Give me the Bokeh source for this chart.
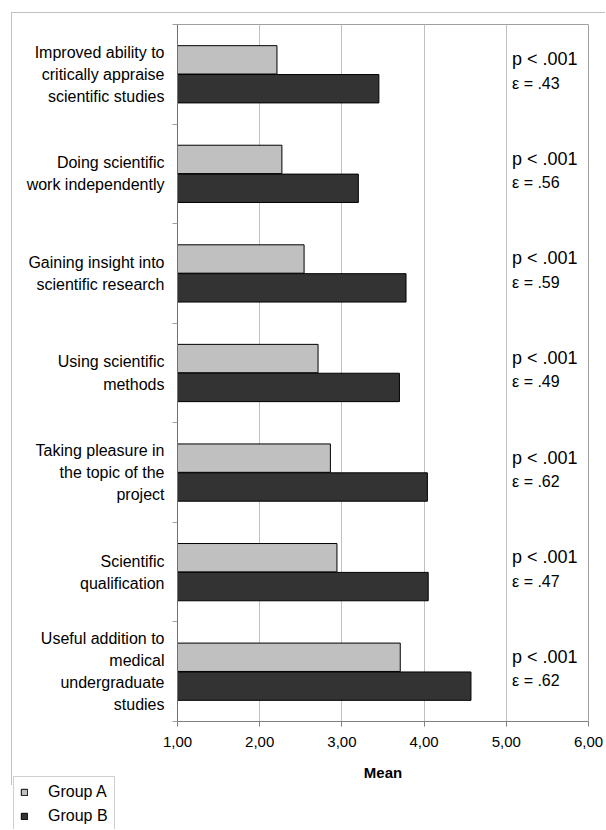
from bokeh.plotting import figure
from bokeh.models import (ColumnDataSource, Range1d, LinearAxis, FixedTicker,
                          Legend, LegendItem)
from bokeh.transform import dodge
from bokeh.core.properties import value
from bokeh.embed import file_html
from bokeh.resources import INLINE

categories = [
    "Improved ability to\ncritically appraise\nscientific studies",
    "Doing scientific\nwork independently",
    "Gaining insight into\nscientific research",
    "Using scientific\nmethods",
    "Taking pleasure in\nthe topic of the\nproject",
    "Scientific\nqualification",
    "Useful addition to\nmedical\nundergraduate\nstudies",
]
group_a = [2.21, 2.27, 2.54, 2.71, 2.86, 2.94, 3.71]
group_b = [3.45, 3.20, 3.78, 3.70, 4.04, 4.05, 4.57]
p_labels = ["p < .001"] * 7
effect_labels = ["ε = .43", "ε = .56", "ε = .59", "ε = .49", "ε = .62", "ε = .47", "ε = .62"]
x_ticks = [1, 2, 3, 4, 5, 6]
x_tick_labels = ["1,00", "2,00", "3,00", "4,00", "5,00", "6,00"]
series_names = ["Group A", "Group B"]
series_colors = ["#c0c0c0", "#333333"]

FONT = "Liberation Sans"
n = len(categories)
# band centre of each category (first category at the top)
band_pos = [n - i - 0.5 for i in range(n)]

src = ColumnDataSource(dict(cat=categories, pos=band_pos, a=group_a, b=group_b,
                            pv=p_labels, eff=effect_labels))

fig = figure(width=594, height=773,
             y_range=Range1d(0, n),
             x_range=Range1d(x_ticks[0], x_ticks[-1]),
             output_backend="svg", toolbar_location=None,
             min_border_left=165, min_border_right=18,
             min_border_top=11, min_border_bottom=65)
fig.margin = (12, 0, 0, 11)
fig.styles = {"border-left": "1px solid #c0c0c0", "border-top": "1px solid #c0c0c0"}

fig.outline_line_color = "#a0a0a0"
fig.background_fill_color = "white"
fig.border_fill_color = "white"

# grid
fig.ygrid.visible = False
fig.xgrid.ticker = x_ticks
fig.xgrid.grid_line_color = "#c0c0c0"

# x axis
xa = fig.xaxis[0]
xa.ticker = x_ticks
xa.major_label_overrides = {t: l for t, l in zip(x_ticks, x_tick_labels)}
xa.axis_line_color = "#808080"
xa.major_tick_line_color = "#808080"
xa.major_tick_in = 0
xa.major_tick_out = 5
xa.minor_tick_line_color = None
xa.major_label_standoff = 10
xa.major_label_text_font = FONT
xa.major_label_text_font_size = "15px"
xa.major_label_text_color = "black"
xa.axis_label = "Mean"
xa.axis_label_text_font = FONT
xa.axis_label_text_font_size = "15px"
xa.axis_label_text_font_style = "bold"
xa.axis_label_text_color = "black"
xa.axis_label_standoff = 14

# inner left axis: band-boundary ticks
ya = fig.yaxis[0]
ya.ticker = FixedTicker(ticks=list(range(n + 1)))
ya.axis_line_color = "#707070"
ya.major_tick_line_color = "#a0a0a0"
ya.major_tick_in = 0
ya.major_tick_out = 5
ya.minor_tick_line_color = None
ya.major_label_standoff = 0
ya.major_label_text_font_size = "0px"
ya.major_label_text_alpha = 0

# outer left axis: category names at band centres
cat_axis = LinearAxis(ticker=FixedTicker(ticks=band_pos),
                      major_label_overrides={pos: c for pos, c in zip(band_pos, categories)})
cat_axis.axis_line_color = None
cat_axis.major_tick_line_color = None
cat_axis.minor_tick_line_color = None
cat_axis.major_tick_in = 0
cat_axis.major_tick_out = 0
cat_axis.major_label_standoff = 8
cat_axis.major_label_text_font = FONT
cat_axis.major_label_text_font_size = "16px"
cat_axis.major_label_text_color = "black"
cat_axis.major_label_text_line_height = 1.3
fig.add_layout(cat_axis, "left")

# bars
ra = fig.hbar(y=dodge("pos", 0.145), right="a", left=x_ticks[0], height=0.285,
              source=src, fill_color=series_colors[0], line_color="black", line_width=1)
rb = fig.hbar(y=dodge("pos", -0.145), right="b", left=x_ticks[0], height=0.285,
              source=src, fill_color=series_colors[1], line_color="black", line_width=1)

# p values and effect sizes
fig.text(x=5.07, y=dodge("pos", 0.15), text="pv", source=src,
         text_font=value(FONT), text_font_size="18px", text_baseline="middle",
         text_align="left", text_color="black")
fig.text(x=5.07, y=dodge("pos", -0.09), text="eff", source=src,
         text_font=value(FONT), text_font_size="16px", text_baseline="middle",
         text_align="left", text_color="black")

# legend box (own small canvas, below the chart frame); its bar renderers share the
# data but lie outside this canvas' visible ranges, so only the legend swatches show
leg_fig = figure(width=200, height=53, output_backend="svg", toolbar_location=None,
                 x_range=Range1d(-2, -1), y_range=Range1d(-2, -1),
                 x_axis_location=None, y_axis_location=None,
                 min_border=0, min_border_left=0, min_border_right=0,
                 min_border_top=0, min_border_bottom=0)
leg_fig.margin = (-9, 0, 0, 13)
leg_fig.outline_line_color = None
leg_fig.xgrid.visible = False
leg_fig.ygrid.visible = False
la = leg_fig.hbar(y="pos", right="a", left=x_ticks[0], height=0.285, source=src,
                  fill_color=series_colors[0], line_color="black")
lb = leg_fig.hbar(y="pos", right="b", left=x_ticks[0], height=0.285, source=src,
                  fill_color=series_colors[1], line_color="black")
legend = Legend(items=[LegendItem(label=series_names[0], renderers=[la]),
                       LegendItem(label=series_names[1], renderers=[lb])],
                location="top_left", orientation="vertical",
                glyph_width=8, glyph_height=8, label_height=12, spacing=6,
                label_standoff=20, label_width=58, padding=6, margin=0,
                label_text_font=FONT, label_text_font_size="16px",
                label_text_color="black",
                border_line_color="#a0a0a0", background_fill_color="white",
                background_fill_alpha=1)
leg_fig.add_layout(legend)

open("out.html", "w").write(file_html([fig, leg_fig], INLINE))
